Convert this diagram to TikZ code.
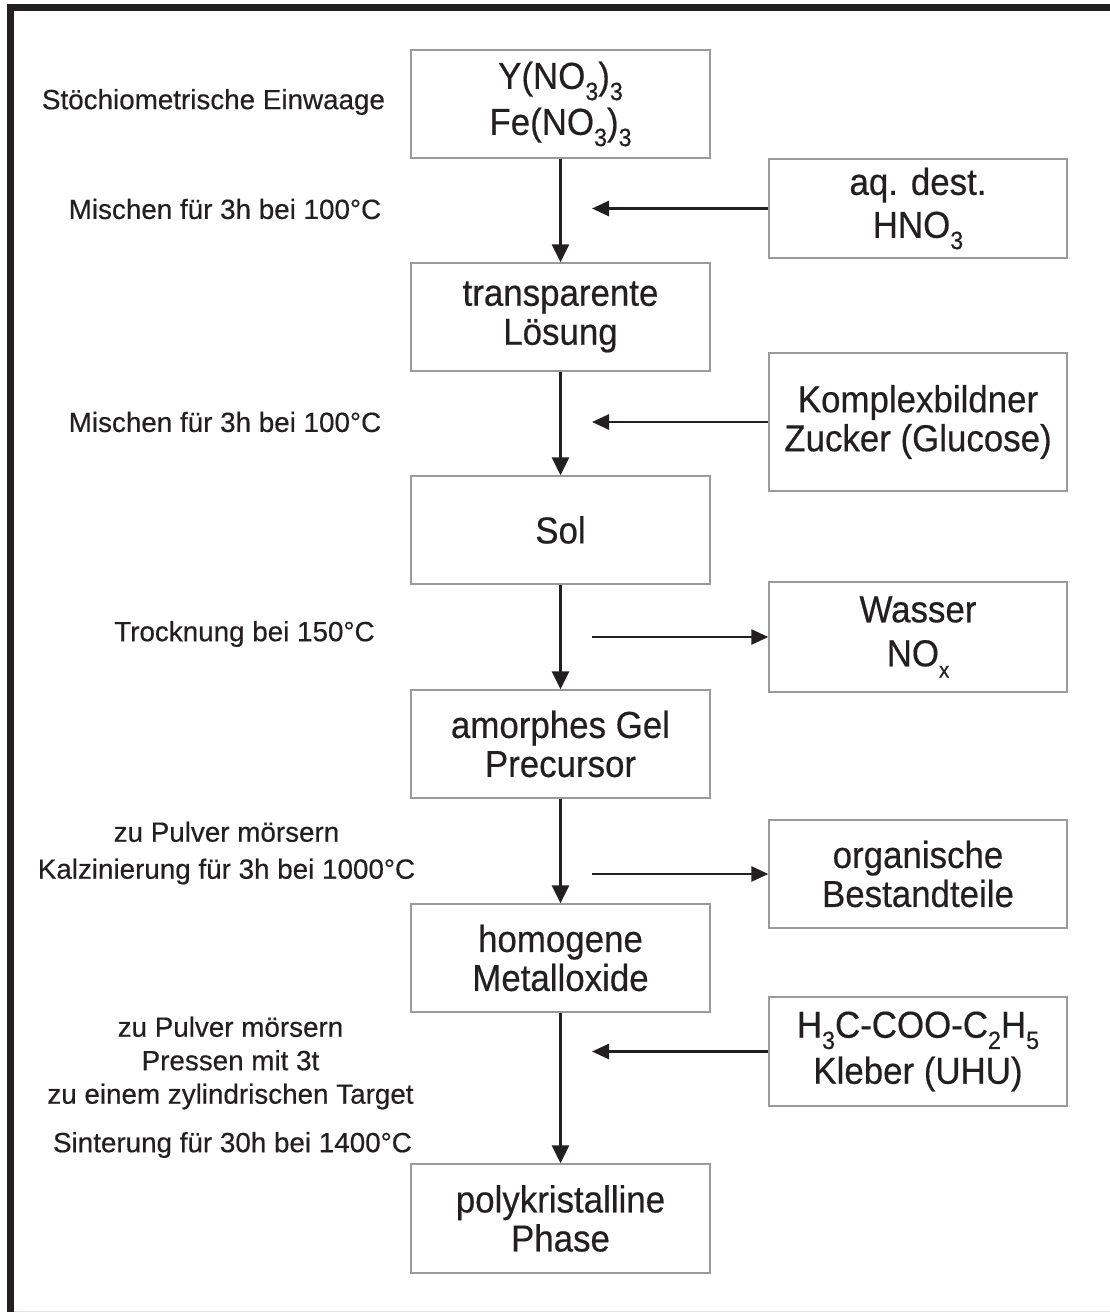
\documentclass[tikz,border=0pt]{standalone}
\usepackage{fontspec}
\setmainfont{Liberation Sans}[FakeBold=0.4]
\newfontfamily\lbfont{Liberation Sans}[FakeBold=0.4]
\newfontfamily\bxfont{Liberation Sans}[FakeStretch=0.93,FakeBold=0.45]
\usetikzlibrary{arrows.meta}
\newcommand\chs[1]{\raisebox{-0.3em}{\fontsize{25}{25}\selectfont #1}}
\definecolor{ink}{HTML}{231F20}
\definecolor{boxline}{HTML}{9A9A9A}
\tikzset{
  procbox/.style={draw=boxline, line width=1.4pt, fill=white, minimum width=299pt,
    inner sep=0pt, align=center, font=\bxfont\fontsize{37.5}{39}\selectfont, text=ink},
  lbl/.style={inner sep=0pt, align=center, font=\lbfont\fontsize{27.8}{36}\selectfont, text=ink},
  varr/.style={draw=ink, line width=2.6pt, -{Triangle[length=18pt,width=17pt]}},
  harr/.style={draw=ink, line width=2.6pt, -{Triangle[length=17pt,width=15pt]}},
}
\begin{document}
\begin{tikzpicture}[x=1pt,y=-1pt]
\useasboundingbox (0,0) rectangle (1110,1312);
\fill[white] (0,0) rectangle (1110,1312);
% frame
\draw[ink, line width=7pt] (10.5,1312) -- (10.5,7.5) -- (1110,7.5);
\draw[black!12, line width=1pt] (14,1311) -- (1110,1311);

% main column
\node[procbox, minimum height=108pt] (b1) at (560.5,104) {Y(NO\chs{3})\chs{3}\\[7pt]Fe(NO\chs{3})\chs{3}};
\node[procbox, minimum height=108pt] (b2) at (560.5,317) {transparente\\Lösung};
\node[procbox, minimum height=108pt] (b3) at (560.5,530) {Sol};
\node[procbox, minimum height=108pt] (b4) at (560.5,744) {amorphes Gel\\Precursor};
\node[procbox, minimum height=108pt] (b5) at (560.5,958) {homogene\\Metalloxide};
\node[procbox, minimum height=109pt] (b6) at (560.5,1218.5) {polykristalline\\Phase};

% side boxes
\node[procbox, minimum width=298pt, minimum height=99pt] (r1) at (918,208.5) {aq. dest.\\[4pt]HNO\chs{3}};
\node[procbox, minimum width=298pt, minimum height=138pt] (r2) at (918,422) {Komplexbildner\\Zucker (Glucose)};
\node[procbox, minimum width=298pt, minimum height=110pt] (r3) at (918,637) {Wasser\\[5pt]NO\chs{\fontsize{22}{22}\selectfont x}};
\node[procbox, minimum width=298pt, minimum height=108pt] (r4) at (918,874) {organische\\Bestandteile};
\node[procbox, minimum width=298pt, minimum height=109pt] (r5) at (918,1051.5) {H\chs{3}C-COO-C\chs{2}H\chs{5}\\[7pt]Kleber (UHU)};

% left labels
\node[lbl] (l1) at (213.5,102) {Stöchiometrische Einwaage};
\node[lbl] (l2) at (225,209) {Mischen für 3h bei 100°C};
\node[lbl] (l3) at (225,422) {Mischen für 3h bei 100°C};
\node[lbl] (l4) at (244.5,634) {Trocknung bei 150°C};
\node[lbl, font=\lbfont\fontsize{27.8}{37}\selectfont] (l5) at (226.5,853) {zu Pulver mörsern\\Kalzinierung für 3h bei 1000°C};
\node[lbl, font=\lbfont\fontsize{27.8}{33.5}\selectfont] (l6) at (230.5,1063) {zu Pulver mörsern\\Pressen mit 3t\\zu einem zylindrischen Target};
\node[lbl] (l7) at (232.5,1145) {Sinterung für 30h bei 1400°C};

% vertical arrows
\draw[varr] (b1.south) -- (b2.north);
\draw[varr] (b2.south) -- (b3.north);
\draw[varr] (b3.south) -- (b4.north);
\draw[varr] (b4.south) -- (b5.north);
\draw[varr] (b5.south) -- (b6.north);

% horizontal arrows
\coordinate (hx) at (592,0);
\draw[harr] (r1.west) -- (r1.west -| hx);
\draw[harr] (r2.west) -- (r2.west -| hx);
\draw[harr] (r3.west -| hx) -- (r3.west);
\draw[harr] (r4.west -| hx) -- (r4.west);
\draw[harr] (r5.west) -- (r5.west -| hx);
\end{tikzpicture}
\end{document}
